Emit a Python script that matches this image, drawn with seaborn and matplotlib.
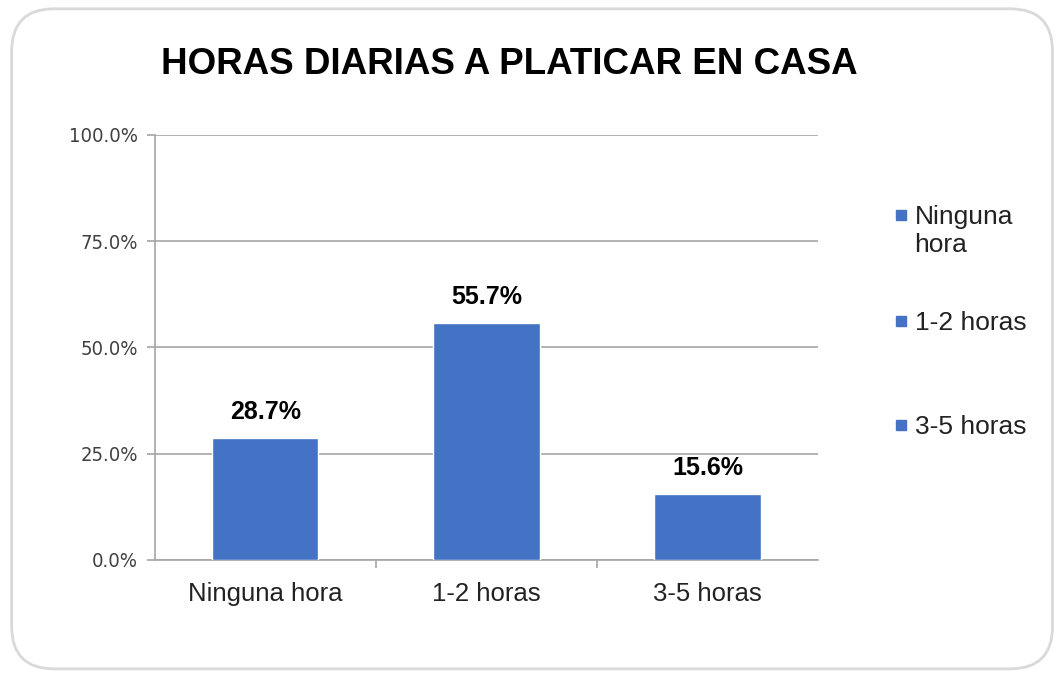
import matplotlib
matplotlib.use("Agg")
import matplotlib.pyplot as plt
import seaborn as sns
import pandas as pd
from matplotlib.patches import FancyBboxPatch
from matplotlib.lines import Line2D
from matplotlib.ticker import FuncFormatter, FixedLocator

categorias = ["Ninguna hora", "1-2 horas", "3-5 horas"]
porcentajes = [28.7, 55.7, 15.6]
etiquetas_leyenda = ["Ninguna\nhora", "1-2 horas", "3-5 horas"]
ticks_y = [0, 25, 50, 75, 100]

AZUL = "#4472C4"
GRIS = "#A6A6A6"

sns.set_theme(style="white")
plt.rcParams['font.family'] = ['Liberation Sans', 'DejaVu Sans']

df = pd.DataFrame({"categoria": categorias, "pct": porcentajes})

fig = plt.figure(figsize=(10.61, 6.77), dpi=100)
ax = fig.add_axes([0.146, 0.173, 0.625, 0.628])

# marco redondeado del grafico
marco = FancyBboxPatch((0.011, 0.012), 0.981, 0.975,
                       boxstyle="round,pad=0,rounding_size=0.04",
                       transform=fig.transFigure, facecolor="white",
                       edgecolor="#D9D9D9", linewidth=2, zorder=-10,
                       mutation_aspect=1061 / 677)
fig.patches.append(marco)

sns.barplot(data=df, x="categoria", y="pct", color=AZUL, width=0.48,
            saturation=1, ax=ax, zorder=3)

for i, v in enumerate(porcentajes):
    ax.annotate(f"{v:.1f}%", (i, v), xytext=(0, 10), textcoords="offset points",
                ha="center", va="bottom", fontsize=18, fontweight="bold",
                color="black")

ax.set_ylim(0, 100)
ax.set_xlim(-0.5, 2.5)
ax.yaxis.set_major_locator(FixedLocator(ticks_y))
ax.yaxis.set_major_formatter(FuncFormatter(lambda v, p: f"{v:.1f}%"))
for lbl in ax.get_yticklabels():
    lbl.set_family(['DejaVu Sans'])
    lbl.set_stretch('condensed')
    lbl.set_fontsize(14.5)
    lbl.set_color("#404040")
ax.grid(axis="y", color=GRIS, linewidth=1.2, zorder=0)
ax.set_axisbelow(True)

ax.set_xlabel("")
ax.set_ylabel("")
ax.tick_params(axis="x", labelsize=18.5, labelcolor="#222222", length=0, pad=16)
ax.tick_params(axis="y", length=6, width=1.2, color=GRIS, left=True, pad=6)
ax.set_xticks([0.5, 1.5], minor=True)
ax.tick_params(axis="x", which="minor", bottom=True, length=6, width=1.2, color=GRIS)

for s in ["top", "right"]:
    ax.spines[s].set_visible(False)
for s in ["left", "bottom"]:
    ax.spines[s].set_color(GRIS)
    ax.spines[s].set_linewidth(1.2)

fig.text(0.480, 0.905, "HORAS DIARIAS A PLATICAR EN CASA",
         ha="center", va="center", fontsize=26.5, fontweight="bold", color="black")

# leyenda colocada a mano (marcador alineado con la primera linea)
leyenda_y = [0.682, 0.526, 0.372]
for txt, yy in zip(etiquetas_leyenda, leyenda_y):
    fig.add_artist(Line2D([0.849], [yy], marker="s", color=AZUL, markersize=7,
                          linestyle="", transform=fig.transFigure))
    fig.text(0.862, yy + 0.015, txt, ha="left", va="top", fontsize=19,
             color="#222222", linespacing=1.2)

fig.savefig("out.png", dpi=100)
